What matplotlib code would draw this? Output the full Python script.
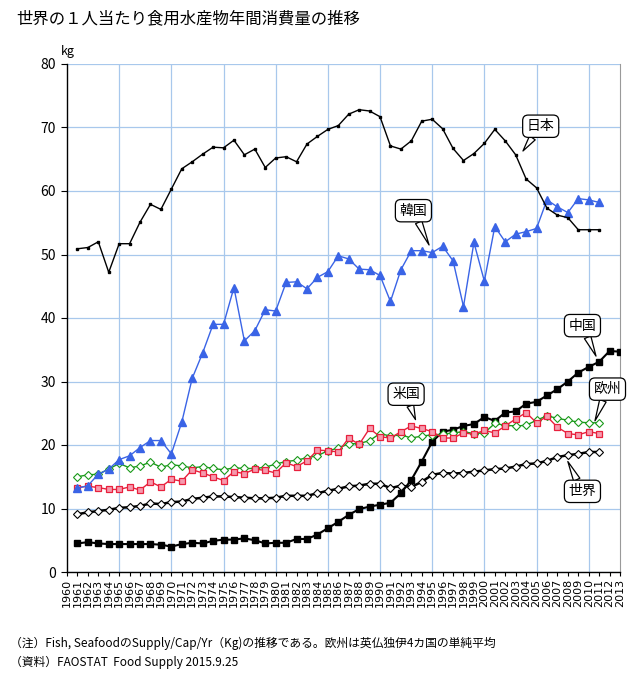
import numpy as np, matplotlib
matplotlib.use("Agg"); import matplotlib.pyplot as plt

plt.rcParams['font.family'] = ['Noto Sans CJK JP', 'DejaVu Sans']

years = list(range(1960, 2014))
yrs11 = list(range(1961, 2012))
yrs13 = list(range(1961, 2014))

japan = [50.9, 51.1, 52.0, 47.2, 51.7, 51.7, 55.1, 57.9, 57.1, 60.3,
         63.5, 64.6, 65.8, 66.9, 66.8, 68.0, 65.7, 66.6, 63.7, 65.2,
         65.4, 64.6, 67.4, 68.6, 69.7, 70.3, 72.1, 72.8, 72.6, 71.7,
         67.1, 66.6, 67.9, 71.0, 71.3, 69.8, 66.7, 64.8, 65.9, 67.5,
         69.7, 67.9, 65.7, 61.9, 60.5, 57.3, 56.2, 55.8, 53.9, 53.9, 53.9]
korea = [13.2, 13.6, 15.4, 16.2, 17.7, 18.3, 19.6, 20.7, 20.7, 18.6,
         23.6, 30.5, 34.5, 39.0, 39.0, 44.8, 36.4, 38.0, 41.3, 41.1,
         45.6, 45.7, 44.6, 46.4, 47.3, 49.8, 49.3, 47.7, 47.6, 46.7,
         42.6, 47.6, 50.6, 50.6, 50.3, 51.3, 49.0, 41.8, 51.9, 45.8,
         54.4, 52.0, 53.2, 53.6, 54.1, 58.6, 57.5, 56.6, 58.8, 58.6, 58.2]
china = [4.5, 4.7, 4.5, 4.4, 4.4, 4.4, 4.4, 4.4, 4.3, 4.0,
         4.4, 4.6, 4.5, 4.9, 5.1, 5.1, 5.3, 5.0, 4.5, 4.6,
         4.6, 5.2, 5.2, 5.9, 6.9, 7.9, 9.0, 9.9, 10.3, 10.6,
         10.9, 12.4, 14.5, 17.4, 20.5, 22.1, 22.4, 23.0, 23.3, 24.4,
         23.8, 25.1, 25.3, 26.5, 26.8, 27.8, 28.8, 30.0, 31.4, 32.3, 33.1, 34.8, 34.7]
usa = [13.3, 13.5, 13.3, 13.0, 13.0, 13.4, 12.9, 14.2, 13.4, 14.6,
       14.3, 16.1, 15.6, 15.0, 14.4, 15.8, 15.5, 16.2, 16.0, 15.6,
       17.2, 16.6, 17.5, 19.2, 19.1, 18.9, 21.1, 20.1, 22.6, 21.3,
       21.1, 22.1, 23.0, 22.6, 22.1, 21.1, 21.1, 21.9, 21.7, 22.3,
       21.9, 23.0, 24.1, 25.1, 23.5, 24.5, 22.8, 21.8, 21.6, 22.1, 21.8]
europe = [15.0, 15.3, 15.4, 16.2, 17.1, 16.4, 16.7, 17.3, 16.5, 16.9,
          16.7, 16.4, 16.6, 16.3, 16.1, 16.4, 16.3, 16.3, 16.5, 17.0,
          17.4, 17.6, 18.0, 18.3, 19.1, 19.5, 20.2, 20.2, 20.7, 21.8,
          21.4, 21.6, 21.1, 21.4, 21.6, 21.7, 21.9, 22.1, 21.8, 21.9,
          23.4, 23.1, 23.0, 23.1, 23.9, 24.6, 24.2, 23.9, 23.6, 23.5, 23.5]
world = [9.1, 9.4, 9.6, 9.8, 10.1, 10.2, 10.4, 10.8, 10.7, 11.0,
         11.1, 11.5, 11.7, 11.9, 11.9, 11.8, 11.7, 11.6, 11.6, 11.7,
         12.0, 12.0, 12.0, 12.4, 12.8, 13.1, 13.5, 13.6, 13.9, 13.9,
         13.2, 13.6, 13.4, 14.2, 15.3, 15.6, 15.5, 15.6, 15.8, 16.0,
         16.2, 16.3, 16.6, 17.0, 17.1, 17.5, 18.1, 18.4, 18.6, 18.9, 18.9]

# callouts: label, text position, tip position
callouts = [("日本", (2005.4, 70.2), (2003.7, 66.3)),
            ("韓国", (1993.2, 56.9), (1994.7, 51.5)),
            ("米国", (1992.5, 28.0), (1993.4, 24.0)),
            ("中国", (2009.4, 38.8), (2010.7, 34.0)),
            ("欧州", (2011.8, 28.8), (2010.6, 23.8)),
            ("世界", (2009.4, 12.7), (2008.0, 17.4))]

fig = plt.figure(figsize=(6.42, 6.85), dpi=100)
ax = fig.add_axes([67/642, 1-572/685, 553/642, 508/685])
gridc = '#a8c8ec'

ax.plot(yrs13, china, '-s', color='black', lw=1.5, ms=4.6, zorder=3)
ax.plot(yrs11, world, '-D', color='black', lw=1.8, ms=4.2, mfc='white', mec='black', mew=0.8, zorder=4)
ax.plot(yrs11, europe, '-D', color='#1a9a1a', lw=1.0, ms=4.0, mfc='white', mec='#1a9a1a', mew=0.8, zorder=5)
ax.plot(yrs11, usa, '-s', color='#e8203c', lw=1.0, ms=4.8, mfc='#f59aae', mec='#e8203c', mew=0.9, zorder=6)
ax.plot(yrs11, korea, '-^', color='#3a64e6', lw=1.0, ms=5.2, mfc='#3a64e6', mec='#3a64e6', zorder=7)
ax.plot(yrs11, japan, '-s', color='black', lw=1.0, ms=2.0, zorder=8)

for txt, xyt, xy in callouts:
    ax.annotate(txt, xy=xy, xytext=xyt, fontsize=10, ha='center', va='center', zorder=10,
                bbox=dict(boxstyle='round,pad=0.3,rounding_size=0.4', fc='white', ec='black', lw=0.9),
                arrowprops=dict(arrowstyle='wedge,tail_width=0.5,shrink_factor=0.5', fc='white', ec='black',
                                lw=0.9, shrinkA=0, shrinkB=0))

ax.set_xlim(1960, 2013)
ax.set_ylim(0, 80)
ax.set_yticks(range(0, 81, 10))
ax.set_xticks(years)
ax.set_xticklabels([str(y) for y in years], rotation=90, fontsize=8, family='DejaVu Sans')
ax.tick_params(axis='x', length=3, pad=2)
ax.tick_params(axis='y', length=4, labelsize=10, pad=4)
ax.yaxis.grid(True, color=gridc, lw=0.9)
for x in range(1965, 2013, 5):
    ax.axvline(x, color=gridc, lw=0.9, zorder=0)
ax.set_axisbelow(True)
ax.spines['top'].set_visible(False)
ax.spines['right'].set_color('#9a9a9a')
ax.spines['left'].set_linewidth(1.0)
ax.spines['bottom'].set_linewidth(1.0)

fig.text(16/642, 1-19/685, "世界の１人当たり食用水産物年間消費量の推移", fontsize=11.8, va='center')
fig.text(61/642, 1-51/685, "kg", fontsize=9, va='center')
fig.text(10/642, 1-643/685, "（注）Fish, SeafoodのSupply/Cap/Yr（Kg)の推移である。欧州は英仏独伊4カ国の単純平均",
         fontsize=8.5, va='center')
fig.text(10/642, 1-662/685, "（資料）FAOSTAT  Food Supply 2015.9.25", fontsize=8.5, va='center')

fig.savefig("out.png", dpi=100)
